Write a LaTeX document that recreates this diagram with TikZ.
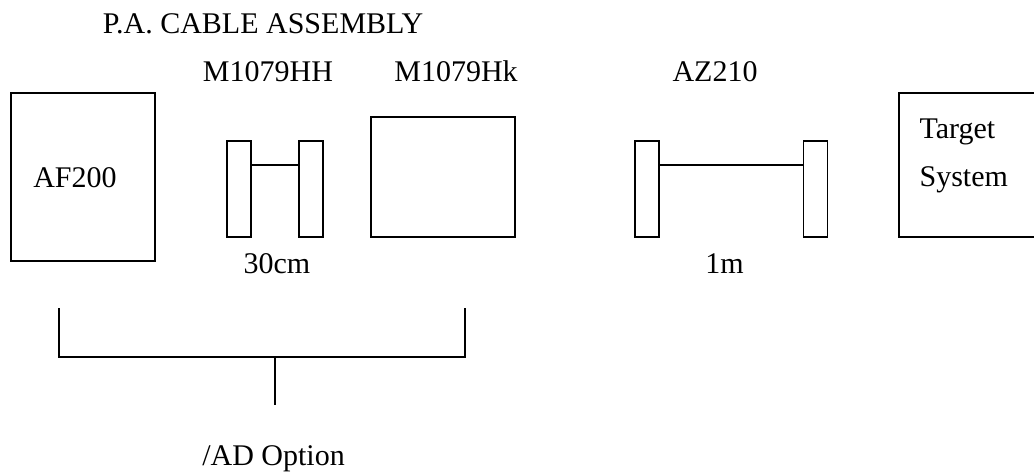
\documentclass[tikz,border=0pt]{standalone}
\usepackage{fontspec}
\setmainfont{Liberation Serif}
\begin{document}
\begin{tikzpicture}[x=1pt,y=-1pt,
  line width=1.2pt,
  lbl/.style={inner sep=0pt,anchor=base,font=\fontsize{30}{36}\selectfont},
  unit/.style={draw,inner sep=0pt,minimum width=#1},
  plug/.style={draw,inner sep=0pt,minimum width=24pt,minimum height=96pt}]
  \clip (0,0) rectangle (1034,472);

  % titles
  \node[lbl] (title) at (263,33) {P.A. CABLE ASSEMBLY};
  \node[lbl] (hhname) at (268,81) {M1079HH};
  \node[lbl] (hkname) at (456,81) {M1079Hk};
  \node[lbl] (azname) at (715,81) {AZ210};

  % AF200 unit
  \node[unit=144pt,minimum height=168pt] (af) at (83,177) {};
  \node[lbl] (aftext) at (75,187) {AF200};

  % M1079HH short cable
  \node[plug] (hh1) at (239,189) {};
  \node[plug] (hh2) at (311,189) {};
  \draw (hh1.east |- 0,165) -- (hh2.west |- 0,165);
  \node[lbl] (hhlen) at (277,273) {30cm};

  % M1079Hk adapter
  \node[unit=144pt,minimum height=120pt] (hk) at (443,177) {};

  % AZ210 cable
  \node[plug] (az1) at (647,189) {};
  \node[plug] (az2) at (815.5,189) {};
  \draw (az1.east |- 0,165) -- (az2.west |- 0,165);
  \node[lbl] (azlen) at (724.5,273) {1m};

  % target system (runs past the right edge)
  \node[unit=160pt,minimum height=144pt] (tgt) at (979,165) {};
  \node[lbl,anchor=base west] (tgt1) at (919,138) {Target};
  \node[lbl,anchor=base west] (tgt2) at (919,186) {System};

  % /AD option bracket
  \coordinate (bl) at (59,308);
  \coordinate (br) at (465,308);
  \coordinate (stem) at (275,405);
  \draw (bl) -- (bl |- 0,357) -- (br |- 0,357) -- (br);
  \draw (stem |- 0,357) -- (stem);
  \node[lbl] (opt) at (273.5,465) {/AD Option};
\end{tikzpicture}
\end{document}
